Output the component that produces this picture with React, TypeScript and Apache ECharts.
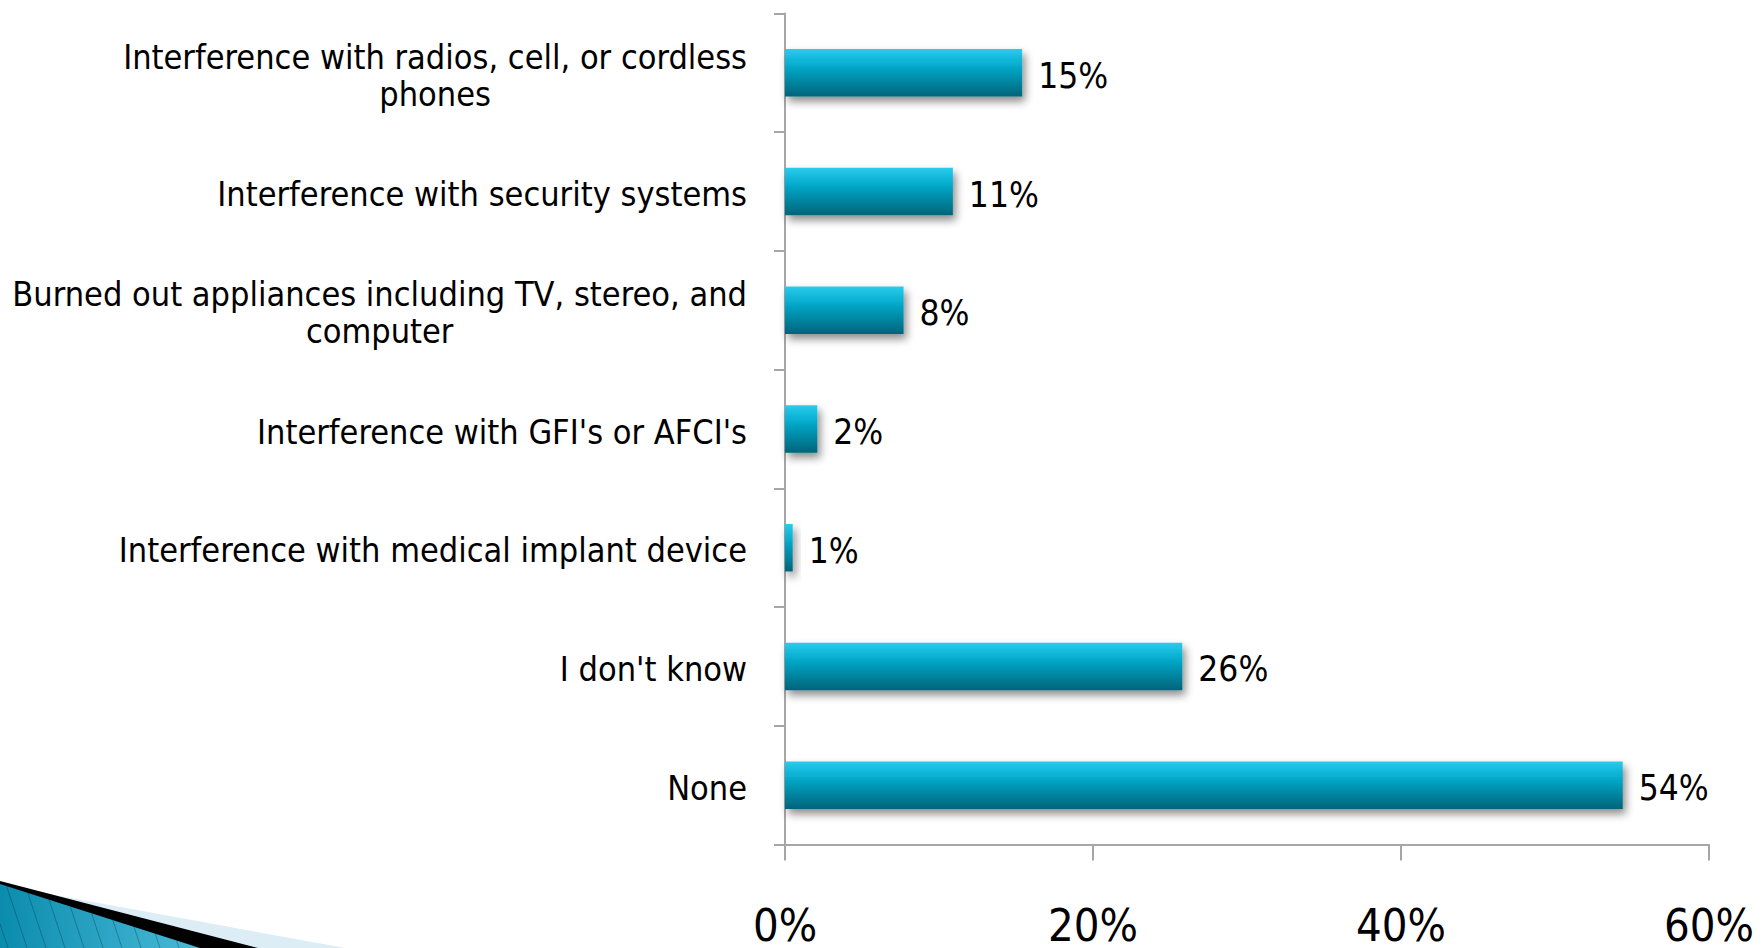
import React, { useEffect, useRef } from "react";
import * as echarts from "echarts";

const categories = [
  "Interference with radios, cell, or cordless\nphones",
  "Interference with security systems",
  "Burned out appliances including TV, stereo, and\ncomputer",
  "Interference with GFI's or AFCI's",
  "Interference with medical implant device",
  "I don't know",
  "None",
];
const values = [15.4, 10.9, 7.7, 2.1, 0.5, 25.8, 54.4];
const valueLabels = ["15%", "11%", "8%", "2%", "1%", "26%", "54%"];
const xTicks = { min: 0, max: 60, interval: 20 };

const LABEL_FONT = "'DejaVu Sans Condensed', 'DejaVu Sans', sans-serif";
const TICK_FONT = "'DejaVu Sans Condensed', 'DejaVu Sans', sans-serif";

function decoration() {
  const H = 948;
  const items: any[] = [
    { type: "polygon", shape: { points: [[0, 885], [345, H], [0, H]] }, style: { fill: "#dcedf5" }, silent: true },
    { type: "polygon", shape: { points: [[0, 881], [258, H], [0, H]] }, style: { fill: "#000" }, silent: true },
    {
      type: "polygon",
      shape: { points: [[0, 884], [200, H], [0, H]] },
      style: {
        fill: new echarts.graphic.LinearGradient(0, 0, 1, 0, [
          { offset: 0, color: "#0b8cad" },
          { offset: 1, color: "#4abad8" },
        ]),
      },
      silent: true,
    },
  ];
  const k = 0.32; // edge slope
  const d = 0.33; // stripe dx/dy
  for (let b = 8; b < 200; b += 19) {
    let tx = (b - d * (H - 884)) / (1 - d * k);
    let ty = 884 + k * tx;
    if (tx < 0) {
      tx = 0;
      ty = H - b / d;
    }
    items.push({
      type: "line",
      shape: { x1: tx, y1: ty, x2: b, y2: H },
      style: { stroke: "rgba(0,50,70,0.35)", lineWidth: 1 },
      silent: true,
    });
  }
  return items;
}

export default function App() {
  const ref = useRef<HTMLDivElement>(null);
  useEffect(() => {
    document.body.style.margin = "0";
    const chart = echarts.init(ref.current!, null, { renderer: "svg" });
    chart.setOption({
      animation: false,
      backgroundColor: "#fff",
      grid: {
        left: 785,
        right: 54,
        top: 13.5,
        bottom: 103.5,
        containLabel: false,
        outerBoundsMode: "none",
      },
      xAxis: {
        type: "value",
        min: xTicks.min,
        max: xTicks.max,
        interval: xTicks.interval,
        splitLine: { show: false },
        axisLine: { show: true, lineStyle: { color: "#a6a6a6", width: 2 } },
        axisTick: { show: true, length: 16, lineStyle: { color: "#a6a6a6", width: 2 } },
        axisLabel: {
          formatter: "{value}%",
          color: "#000",
          fontFamily: TICK_FONT,
          fontSize: 45,
          lineHeight: 45,
          margin: 58,
        },
      },
      yAxis: {
        type: "category",
        inverse: true,
        data: categories,
        axisLine: { show: true, lineStyle: { color: "#a6a6a6", width: 2 } },
        axisTick: { show: true, length: 11, lineStyle: { color: "#a6a6a6", width: 2 } },
        axisLabel: {
          margin: 38,
          padding: [5, 0, 0, 0],
          formatter: (v: string) => v.split("\n").map((l) => `{c|${l}}`).join("\n"),
          rich: {
            c: {
              align: "center",
              fontFamily: LABEL_FONT,
              fontSize: 34,
              lineHeight: 37,
              color: "#000",
            },
          },
        },
      },
      series: [
        {
          type: "bar",
          data: values,
          barCategoryGap: "60%",
          itemStyle: {
            color: new echarts.graphic.LinearGradient(0, 0, 0, 1, [
              { offset: 0, color: "#2ccbeb" },
              { offset: 0.3, color: "#07b0d2" },
              { offset: 1, color: "#00647a" },
            ]),
            shadowColor: "rgba(0,0,0,0.45)",
            shadowBlur: 8,
            shadowOffsetX: 3,
            shadowOffsetY: 5,
          },
          label: {
            show: true,
            position: "right",
            distance: 16,
            offset: [0, 3],
            formatter: (p: any) => valueLabels[p.dataIndex],
            color: "#000",
            fontFamily: LABEL_FONT,
            fontSize: 35,
          },
        },
      ],
      graphic: decoration(),
    });
    return () => chart.dispose();
  }, []);
  return <div ref={ref} style={{ width: 1763, height: 948 }} />;
}
